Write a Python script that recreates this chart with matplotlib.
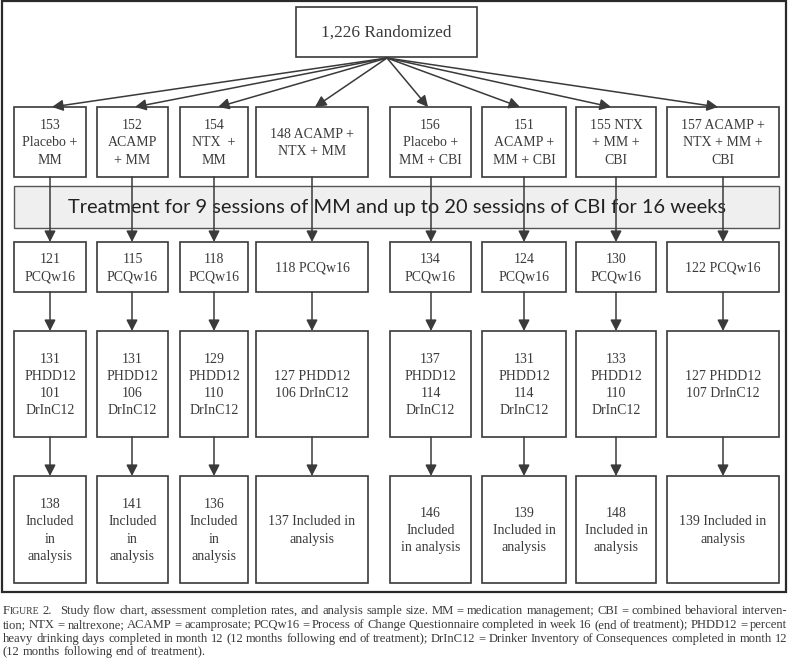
import matplotlib
matplotlib.use("Agg")
import matplotlib.pyplot as plt
from matplotlib.patches import Rectangle

# ---------------- data ----------------
total_randomized = 1226
n_randomized = [153, 152, 154, 148, 156, 151, 155, 157]
pcq_w16 = [121, 115, 118, 118, 134, 124, 130, 122]
phdd12 = [131, 131, 129, 127, 137, 131, 133, 127]
drinc12 = [101, 106, 110, 106, 114, 114, 110, 107]
included = [138, 141, 136, 137, 146, 139, 148, 139]

group_templates = [
    "{n}\nPlacebo +\nMM",
    "{n}\nACAMP\n+ MM",
    "{n}\nNTX  +\nMM",
    "{n} ACAMP +\nNTX + MM",
    "{n}\nPlacebo +\nMM + CBI",
    "{n}\nACAMP +\nMM + CBI",
    "{n} NTX\n+ MM +\nCBI",
    "{n} ACAMP +\nNTX + MM +\nCBI",
]
pcq_templates = ["{n}\nPCQw16"] * 3 + ["{n} PCQw16"] + ["{n}\nPCQw16"] * 3 + ["{n} PCQw16"]
fu_templates = (["{p}\nPHDD12\n{d}\nDrInC12"] * 3 + ["{p} PHDD12\n{d} DrInC12"]
                + ["{p}\nPHDD12\n{d}\nDrInC12"] * 3 + ["{p} PHDD12\n{d} DrInC12"])
incl_templates = [
    "{n}\nIncluded\nin\nanalysis",
    "{n}\nIncluded\nin\nanalysis",
    "{n}\nIncluded\nin\nanalysis",
    "{n} Included in\nanalysis",
    "{n}\nIncluded\nin analysis",
    "{n}\nIncluded in\nanalysis",
    "{n}\nIncluded in\nanalysis",
    "{n} Included in\nanalysis",
]
band_text = "Treatment for 9 sessions of MM and up to 20 sessions of CBI for 16 weeks"

caption_lines = [
    "Study flow chart, assessment completion rates, and analysis sample size. MM = medication management; CBI = combined behavioral interven-",
    "tion; NTX = naltrexone; ACAMP = acamprosate; PCQw16 = Process of Change Questionnaire completed in week 16 (end of treatment); PHDD12 = percent",
    "heavy drinking days completed in month 12 (12 months following end of treatment); DrInC12 = Drinker Inventory of Consequences completed in month 12",
    "(12 months following end of treatment).",
]

# ---------------- layout ----------------
W, H = 789, 658
fig = plt.figure(figsize=(W / 100, H / 100), dpi=100)
ax = fig.add_axes([0, 0, 1, 1])
ax.set_xlim(0, W)
ax.set_ylim(H, 0)
ax.axis("off")

SERIF = ["Liberation Serif", "DejaVu Serif"]
SANS = ["Lato", "DejaVu Sans"]
LINE = "#3a3a3a"
TXT = "#3a3a3a"
BOX_FS = 10.0

cols = [(14, 86), (97, 168), (180, 248), (256, 368), (390, 471), (482, 566), (576, 656), (667, 779)]
rows = [(107, 177), (242, 292), (331, 437), (476, 583)]
fan_tips = [52, 135, 218, 315, 428, 520, 611, 718]
vert_x = [50, 132, 214, 312, 431, 524, 616, 723]

renderer = fig.canvas.get_renderer()


def text_width(s, size, family):
    t = ax.text(0, 0, s, fontsize=size, family=family)
    w = t.get_window_extent(renderer).width
    t.remove()
    return w


def arrow(x0, y0, x1, y1):
    ax.annotate("", xy=(x1, y1), xytext=(x0, y0),
                arrowprops=dict(arrowstyle="-|>,head_length=0.55,head_width=0.28",
                                color=LINE, lw=1.1, shrinkA=0, shrinkB=0,
                                mutation_scale=12), zorder=5)


def box(x0, x1, y0, y1, label, fs=BOX_FS):
    ax.add_patch(Rectangle((x0, y0), x1 - x0, y1 - y0, facecolor="white",
                           edgecolor=LINE, lw=1.2, zorder=3))
    ax.text((x0 + x1) / 2, (y0 + y1) / 2 + 1, label, ha="center", va="center",
            fontsize=fs, family=SERIF, color=TXT, linespacing=1.42, zorder=4)


# outer frame
ax.add_patch(Rectangle((2, 1), 784, 591, facecolor="none", edgecolor="#2a2a2a", lw=1.6, zorder=2))

# top box
box(296, 477, 7, 57, f"{total_randomized:,} Randomized", fs=12.4)

# fan arrows
for tx in fan_tips:
    arrow(387, 58, tx, rows[0][0])

# treatment band
ax.add_patch(Rectangle((14, 186), 765, 42, facecolor="#efefef", edgecolor="#555555", lw=1.0, zorder=3))
bt = ax.text(397, 208, band_text, ha="center", va="center", fontsize=15, family=SANS,
             color="#222222", zorder=4)
bw = bt.get_window_extent(renderer).width
bt.set_fontsize(15 * 660 / bw)

# rows of boxes
for i, (x0, x1) in enumerate(cols):
    box(x0, x1, *rows[0], group_templates[i].format(n=n_randomized[i]))
    box(x0, x1, *rows[1], pcq_templates[i].format(n=pcq_w16[i]))
    box(x0, x1, *rows[2], fu_templates[i].format(p=phdd12[i], d=drinc12[i]))
    box(x0, x1, *rows[3], incl_templates[i].format(n=included[i]))
    arrow(vert_x[i], rows[0][1], vert_x[i], rows[1][0])
    arrow(vert_x[i], rows[1][1], vert_x[i], rows[2][0])
    arrow(vert_x[i], rows[2][1], vert_x[i], rows[3][0])

# ---------------- caption (justified) ----------------
CFS = 9.05
CAP_L, CAP_R = 3, 787
baselines = [614, 628, 642, 655]

# "FIGURE 2." in small caps
x = CAP_L
ax.text(x, baselines[0], "F", fontsize=CFS, family=SERIF, color=TXT, va="baseline")
x += text_width("F", CFS, SERIF)
ax.text(x, baselines[0], "IGURE", fontsize=CFS * 0.78, family=SERIF, color=TXT, va="baseline")
x += text_width("IGURE", CFS * 0.78, SERIF) + text_width("a a", CFS, SERIF) - text_width("aa", CFS, SERIF)
ax.text(x, baselines[0], "2.", fontsize=CFS, family=SERIF, color=TXT, va="baseline")

space_w = text_width("a a", CFS, SERIF) - text_width("aa", CFS, SERIF)
for li, line in enumerate(caption_lines):
    words = line.split(" ")
    left = 60 if li == 0 else CAP_L
    widths = [text_width(w, CFS, SERIF) for w in words]
    if li < len(caption_lines) - 1:
        gap = (CAP_R - left - sum(widths)) / (len(words) - 1)
    else:
        gap = space_w
    x = left
    for w, wd in zip(words, widths):
        ax.text(x, baselines[li], w, fontsize=CFS, family=SERIF, color=TXT, va="baseline")
        x += wd + gap

fig.savefig("out.png", dpi=100)
